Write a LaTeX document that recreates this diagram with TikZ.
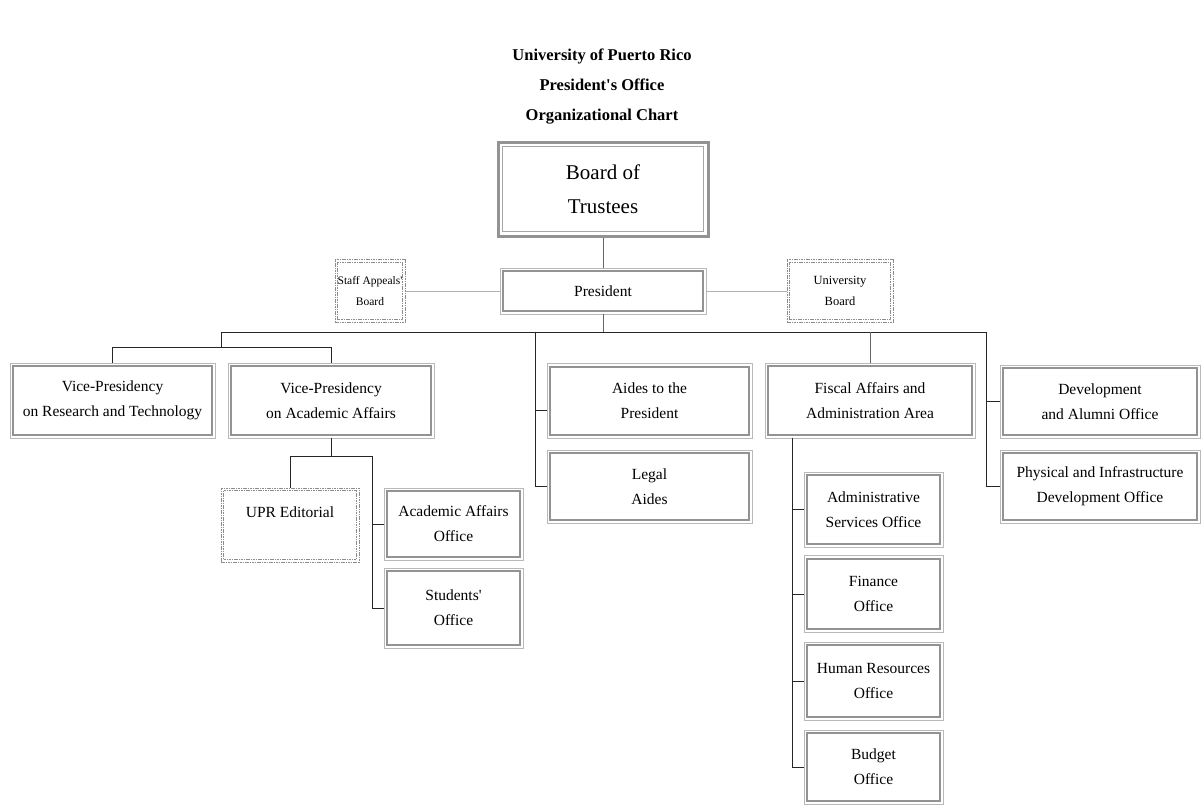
\documentclass[tikz,border=0pt]{standalone}
\usepackage{fontspec}
\setmainfont{Liberation Serif}[Ligatures=TeXOff]
\begin{document}
\begin{tikzpicture}[x=1pt,y=-1pt,
  ob/.style={draw=gray!55, line width=0.6pt, align=center, inner sep=0pt,
    font=\fontsize{15.5}{25}\selectfont,
    path picture={\draw[gray!85, line width=2.2pt]
      ([shift={(3.2pt,3.2pt)}]path picture bounding box.south west) rectangle
      ([shift={(-3.2pt,-3.2pt)}]path picture bounding box.north east);}},
  tb/.style={draw=gray!85, line width=3pt, align=center, inner sep=0pt,
    font=\fontsize{21}{34}\selectfont,
    path picture={\draw[gray!70, line width=0.8pt]
      ([shift={(4.5pt,4.5pt)}]path picture bounding box.south west) rectangle
      ([shift={(-4.5pt,-4.5pt)}]path picture bounding box.north east);}},
  db/.style={draw=gray!90, line width=1pt, dash pattern=on 1.6pt off 0.8pt,
    align=center, inner sep=0pt,
    path picture={\draw[gray!90, line width=1pt, dash pattern=on 1.6pt off 0.8pt]
      ([shift={(2.6pt,2.6pt)}]path picture bounding box.south west) rectangle
      ([shift={(-2.6pt,-2.6pt)}]path picture bounding box.north east);}},
  conn/.style={draw=black!85, line width=1pt},
  lconn/.style={draw=gray!60, line width=0.8pt},
  ttl/.style={font=\fontsize{16.5}{30}\selectfont\bfseries, align=center}
]
\useasboundingbox (0,0) rectangle (1202,804);
\node[ttl] (title) at (602,87) {University of Puerto Rico\\President's Office\\Organizational Chart};

\node[tb, minimum width=210, minimum height=94] (bot) at (603,189) {Board of\\Trustees};
\node[ob, minimum width=206, minimum height=46] (pres) at (603,291) {President};
\node[db, minimum width=70, minimum height=63, font=\fontsize{11.5}{21}\selectfont] (staff) at (370,291) {Staff Appeals'\\Board};
\node[db, minimum width=106, minimum height=63, font=\fontsize{12.5}{21}\selectfont] (ub) at (840,291) {University\\Board};

\node[ob, minimum width=205, minimum height=75] (vpr) at (112.5,400.5) {Vice-Presidency\\on Research and Technology};
\node[ob, minimum width=206, minimum height=75] (vpa) at (331,400.5) {Vice-Presidency\\on Academic Affairs};
\node[ob, minimum width=205, minimum height=75] (aides) at (649.5,401) {Aides to the\\President};
\node[ob, minimum width=205, minimum height=73] (legal) at (649.5,486.5) {Legal\\Aides};
\node[ob, minimum width=210, minimum height=75] (fisc) at (870,400.5) {Fiscal Affairs and\\Administration Area};
\node[ob, minimum width=200, minimum height=73] (dev) at (1100,401.5) {Development\\and Alumni Office};
\node[ob, minimum width=200, minimum height=73] (phys) at (1100,486.5) {Physical and Infrastructure\\Development Office};

\node[db, minimum width=138, minimum height=74, font=\fontsize{15.5}{25}\selectfont] (ed) at (290,525) {UPR Editorial\\\mbox{}};
\node[ob, minimum width=139, minimum height=72] (aao) at (453.5,524) {Academic Affairs\\Office};
\node[ob, minimum width=139, minimum height=80] (stu) at (453.5,608) {Students'\\Office};

\node[ob, minimum width=139, minimum height=75] (adm) at (873.5,509.5) {Administrative\\Services Office};
\node[ob, minimum width=139, minimum height=77] (fin) at (873.5,594) {Finance\\Office};
\node[ob, minimum width=139, minimum height=78] (hr) at (873.5,681) {Human Resources\\Office};
\node[ob, minimum width=139, minimum height=74] (bud) at (873.5,767) {Budget\\Office};

% connectors
\draw[conn, draw=gray!80!black] (bot.south) -- (pres.north);
\draw[lconn] (staff.east) -- (pres.west);
\draw[lconn] (pres.east) -- (ub.west);

\coordinate (j0) at (603,332);
\coordinate (busL) at (221,332);
\coordinate (busR) at (986,332);
\coordinate (vbL) at (112.5,347);
\coordinate (vbM) at (221,347);
\coordinate (vbR) at (331,347);
\coordinate (aj) at (535,332);
\coordinate (ab) at (535,486.5);
\coordinate (rb) at (986,486.5);
\coordinate (fj) at (870,332);

\draw[conn, draw=gray!80!black] (pres.south) -- (j0);
\draw[conn] (busL) -- (busR);
\draw[conn] (busL) -- (vbM);
\draw[conn] (vpr.north) -- (vbL) -- (vbR) -- (vpa.north);
\draw[conn] (aj) -- (ab) -- (legal.west);
\draw[conn] ([yshift=-9pt]aides.west) -- ([yshift=-9pt]aides.west -| aj);
\draw[conn, draw=gray!80!black] (fj) -- (fisc.north);
\draw[conn] (busR) -- (rb) -- (phys.west);
\draw[conn] (dev.west) -- (dev.west -| busR);

% academic affairs subtree
\coordinate (ab0) at (331,456);
\coordinate (abL) at (290,456);
\coordinate (abR) at (372,456);
\coordinate (abB) at (372,608);
\draw[conn] (vpa.south) -- (ab0);
\draw[conn] (ed.north) -- (abL) -- (abR) -- (abB) -- (stu.west);
\draw[conn] (aao.west) -- (aao.west -| abR);

% fiscal subtree
\coordinate (fv1) at (792,438);
\coordinate (fv2) at (792,767);
\draw[conn] (fv1) -- (fv2) -- (bud.west);
\draw[conn] (adm.west) -- (adm.west -| fv1);
\draw[conn] (fin.west) -- (fin.west -| fv1);
\draw[conn] (hr.west) -- (hr.west -| fv1);
\end{tikzpicture}
\end{document}
